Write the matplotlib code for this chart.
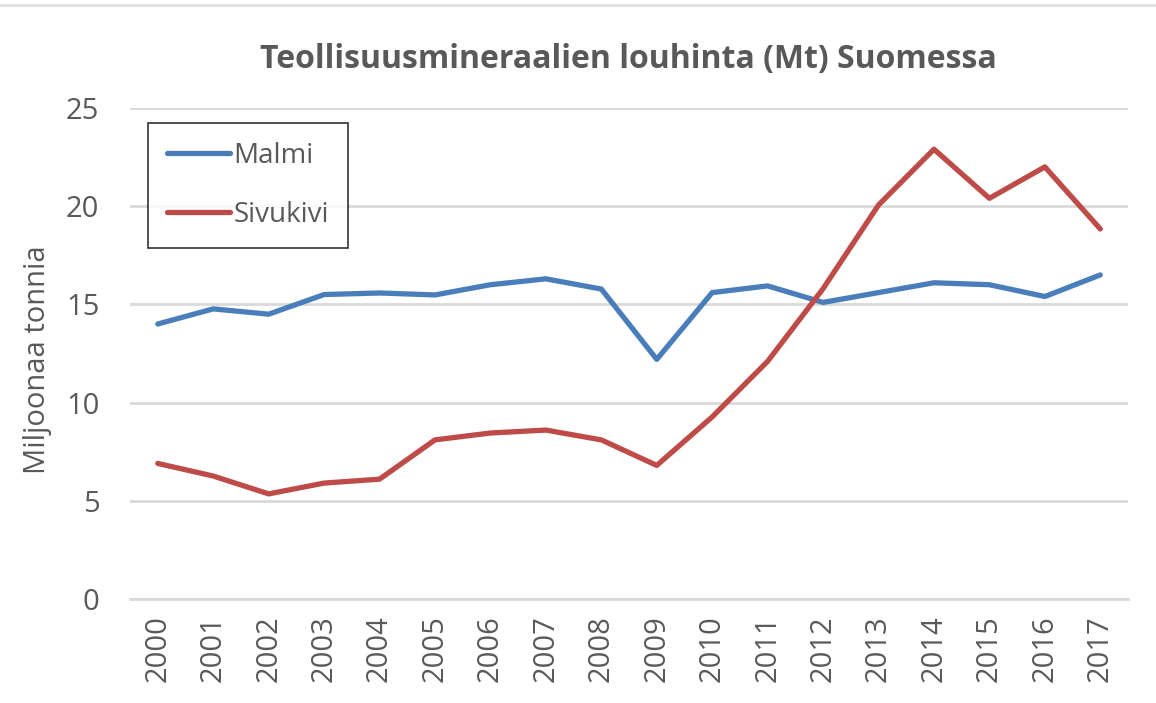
import numpy as np
import matplotlib.pyplot as plt
from matplotlib.lines import Line2D

years = [str(y) for y in range(2000, 2018)]
malmi = [14.0, 14.77, 14.5, 15.5, 15.58, 15.48, 16.0, 16.3, 15.78, 12.2,
         15.6, 15.94, 15.1, 15.6, 16.1, 16.0, 15.4, 16.5]
sivukivi = [6.9, 6.26, 5.35, 5.9, 6.1, 8.1, 8.45, 8.6, 8.1, 6.8,
            9.27, 12.1, 15.8, 20.06, 22.9, 20.4, 22.0, 18.84]

plt.rcParams['font.family'] = ['Open Sans', 'DejaVu Sans']
grey = '#595959'

fig = plt.figure(figsize=(11.56, 7.03), dpi=100)
ax = fig.add_axes([0.1125, 0.148, 0.8633, 0.6984])

x = np.arange(len(years))
ax.plot(x, malmi, color='#4A7EBB', lw=3.8, label='Malmi', solid_capstyle='round')
ax.plot(x, sivukivi, color='#BE4B48', lw=3.8, label='Sivukivi', solid_capstyle='round')

ax.set_xlim(-0.5, len(years) - 0.5)
ax.set_ylim(0, 25)
ax.set_yticks([0, 5, 10, 15, 20, 25])
ax.set_xticks(x)
ax.set_xticklabels(years, rotation=90)
ax.tick_params(axis='both', length=0, labelsize=21, colors=grey)
ax.tick_params(axis='y', pad=22)
ax.tick_params(axis='x', pad=12)
ax.grid(axis='y', color='#D9D9D9', lw=2)
ax.set_axisbelow(True)
for s in ['top', 'right', 'left']:
    ax.spines[s].set_visible(False)
ax.spines['bottom'].set_color('#D9D9D9')
ax.spines['bottom'].set_linewidth(2)

ax.set_ylabel('Miljoonaa tonnia', fontsize=21, color=grey)
ax.yaxis.set_label_coords(-0.078, 0.487)
fig.text(0.544, 0.915, 'Teollisuusmineraalien louhinta (Mt) Suomessa',
         ha='center', va='center', fontsize=23, fontweight='bold', color=grey)

leg = ax.legend(loc='upper left', bbox_to_anchor=(0.018, 0.97), fontsize=20,
                frameon=True, fancybox=False, edgecolor='black', handlelength=2.25,
                handletextpad=0.12, labelspacing=1.1, borderpad=0.7, borderaxespad=0)
leg.get_frame().set_linewidth(1.2)
for t in leg.get_texts():
    t.set_color(grey)

fig.add_artist(Line2D([0, 1], [0.993, 0.993], color='#E0E0E0', lw=2,
                      transform=fig.transFigure))

fig.savefig('out.png', dpi=100)
